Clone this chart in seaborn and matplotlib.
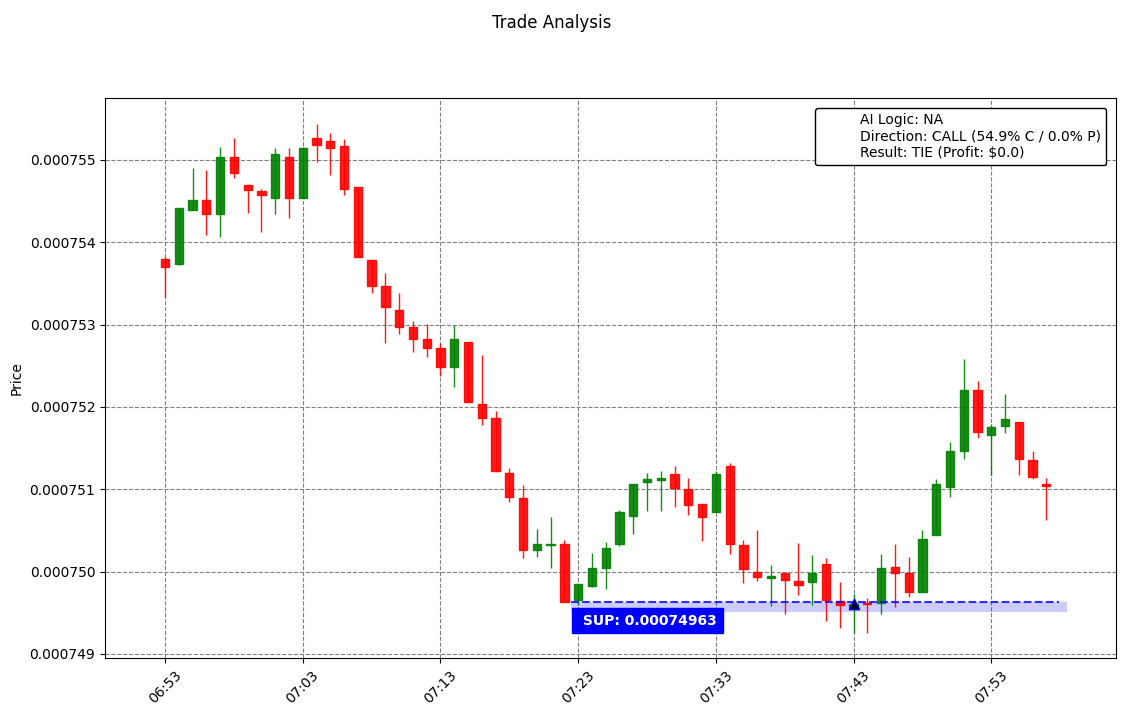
import numpy as np
import pandas as pd
import seaborn as sns
import matplotlib
matplotlib.use('Agg')
import matplotlib.pyplot as plt
from matplotlib.ticker import MultipleLocator, FormatStrFormatter

# candle data (price x 1e-8)
opens = [75379, 75373, 75439, 75451, 75434, 75503, 75469, 75462, 75453, 75503,
         75454, 75527, 75523, 75517, 75467, 75378, 75347, 75318, 75297, 75283,
         75271, 75248, 75279, 75203, 75186, 75120, 75089, 75026, 75032, 75034,
         74965, 74982, 75004, 75033, 75068, 75109, 75111, 75118, 75100, 75082,
         75072, 75128, 75032, 74999, 74992, 74998, 74988, 74987, 75009, 74964,
         74957, 74962, 74962, 75005, 74998, 74975, 75044, 75103, 75146, 75220,
         75166, 75177, 75182, 75135, 75106]
highs = [75382, 75441, 75490, 75487, 75515, 75527, 75469, 75464, 75514, 75514,
         75515, 75544, 75532, 75525, 75467, 75378, 75363, 75338, 75304, 75301,
         75277, 75300, 75279, 75263, 75195, 75126, 75105, 75052, 75066, 75038,
         74985, 75022, 75036, 75075, 75106, 75120, 75122, 75128, 75114, 75082,
         75122, 75132, 75038, 75050, 75008, 74998, 75035, 75020, 75017, 74987,
         74973, 74968, 75021, 75034, 75018, 75051, 75113, 75157, 75258, 75231,
         75179, 75216, 75182, 75146, 75114]
lows = [75334, 75372, 75439, 75409, 75406, 75478, 75435, 75412, 75434, 75429,
        75454, 75497, 75481, 75457, 75382, 75338, 75277, 75289, 75267, 75261,
        75238, 75224, 75206, 75178, 75122, 75084, 75017, 75018, 75004, 74963,
        74959, 74981, 74979, 75031, 75046, 75074, 75073, 75078, 75069, 75037,
        75072, 75021, 74986, 74989, 74958, 74949, 74971, 74959, 74940, 74932,
        74926, 74926, 74949, 74957, 74969, 74975, 75044, 75091, 75137, 75162,
        75117, 75168, 75117, 75112, 75063]
closes = [75370, 75441, 75451, 75434, 75503, 75484, 75463, 75457, 75507, 75453,
          75514, 75518, 75514, 75464, 75382, 75347, 75321, 75297, 75283, 75271,
          75248, 75282, 75206, 75186, 75122, 75091, 75026, 75033, 75034, 74963,
          74985, 75004, 75029, 75072, 75106, 75112, 75114, 75101, 75081, 75066,
          75118, 75033, 75003, 74993, 74995, 74990, 74984, 74998, 74965, 74959,
          74961, 74961, 75004, 74998, 74975, 75039, 75106, 75146, 75220, 75169,
          75175, 75185, 75137, 75115, 75104]

tick_labels = ['06:53', '07:03', '07:13', '07:23', '07:33', '07:43', '07:53']
support = 0.00074963
support_start = 29.5
entry_idx = 50

df = pd.DataFrame({'open': opens, 'high': highs, 'low': lows, 'close': closes}) * 1e-8
df['i'] = np.arange(len(df))
df['up'] = df['close'] >= df['open']
df['color'] = np.where(df['up'], 'green', 'red')

fig = plt.figure(figsize=(11.23, 7.16), dpi=100)
ax = fig.add_axes([0.0935, 0.081, 0.9003, 0.782])

# wicks then bodies
ax.vlines(df['i'], df['low'], df['high'], colors=df['color'], linewidth=1, alpha=0.9, zorder=2)
ax.bar(df['i'], (df['close'] - df['open']).abs(), bottom=df[['open', 'close']].min(axis=1),
       width=0.6, color=df['color'], edgecolor=df['color'], alpha=0.9, zorder=3)

# support zone
last = len(df) - 1
ax.fill_between([support_start, last + 1.5], support - 12e-8, support,
                color='blue', alpha=0.2, linewidth=0, zorder=1)
ax.hlines(support, support_start, last + 0.9, colors='blue', linestyles='--',
          linewidth=1.5, alpha=0.8, zorder=4)
ax.text(support_start + 0.5, support - 14e-8, ' SUP: 0.00074963', color='white',
        fontsize=10, fontweight='bold', ha='left', va='top', zorder=6,
        bbox=dict(facecolor='blue', edgecolor='blue', boxstyle='square,pad=0.42'))

# entry marker
entry = pd.DataFrame({'i': [entry_idx], 'price': [df['close'][entry_idx]]})
sns.scatterplot(data=entry, x='i', y='price', marker='^', color='black',
                edgecolor='blue', s=55, linewidth=1, zorder=5, ax=ax)

# legend with blank handle
ax.plot([], [], ' ', label='AI Logic: NA\nDirection: CALL (54.9% C / 0.0% P)\nResult: TIE (Profit: $0.0)')
leg = ax.legend(loc='upper right', framealpha=1, borderaxespad=0.7)
leg.get_frame().set_edgecolor('black')

ax.set_xlim(-4.36, 69.06)
ax.set_xticks(range(0, len(df), 10))
ax.set_xticklabels(tick_labels, rotation=45)
ax.yaxis.set_major_locator(MultipleLocator(1e-6))
ax.yaxis.set_major_formatter(FormatStrFormatter('%.6f'))
ax.set_xlabel('')
ax.set_ylabel('Price')
ax.grid(True, linestyle='--', color='gray', linewidth=0.8)
ax.set_axisbelow(True)

fig.suptitle('Trade Analysis', x=0.4915)
fig.savefig('out.png', dpi=100)
